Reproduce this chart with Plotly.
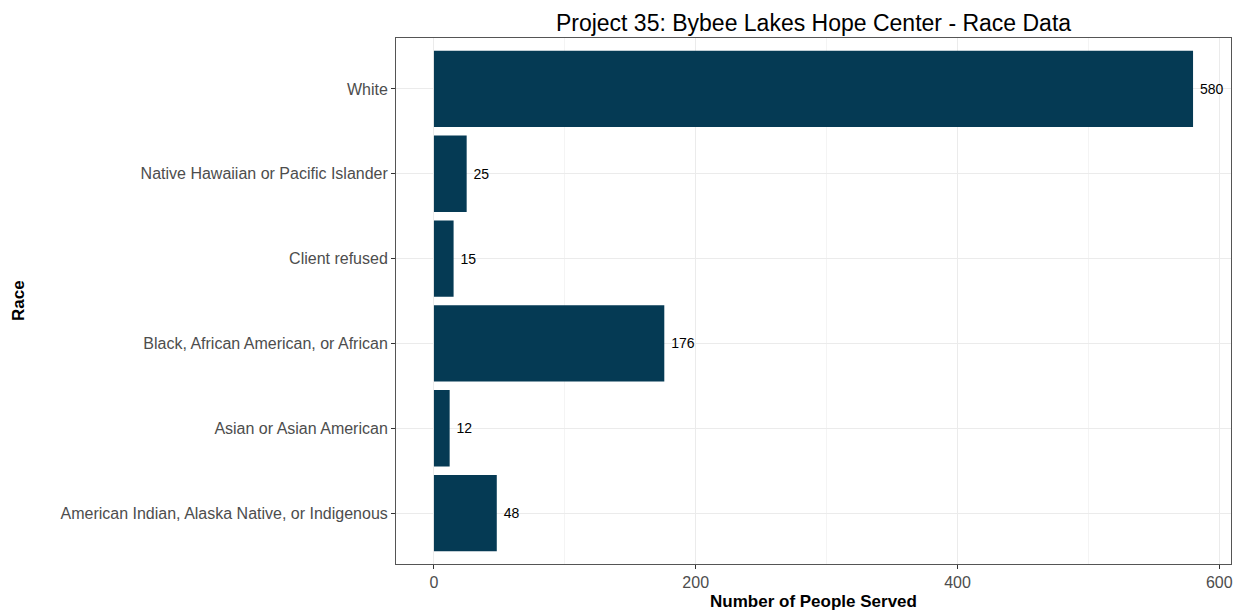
import plotly.graph_objects as go

categories = [
    "American Indian, Alaska Native, or Indigenous",
    "Asian or Asian American",
    "Black, African American, or African",
    "Client refused",
    "Native Hawaiian or Pacific Islander",
    "White",
]
values = [48, 12, 176, 15, 25, 580]
x_ticks = [0, 200, 400, 600]

FONT = "Liberation Sans, Arial, Helvetica, sans-serif"

# page body has an 8px default margin; positions below are in figure pixels
OFF = 8
W, H = 1242, 615
L, R, T, B = 396 - OFF, 11 + OFF, 38 - OFF, 51 + OFF

fig = go.Figure()
fig.add_trace(go.Bar(
    y=categories,
    x=values,
    orientation="h",
    width=0.9,
    marker=dict(color="#053A54", line=dict(width=0)),
    text=["\u00a0" + str(v) for v in values],
    textposition="outside",
    textfont=dict(family=FONT, size=14, color="#000000"),
    cliponaxis=False,
    hoverinfo="x+y",
))

fig.update_layout(
    width=W,
    height=H,
    margin=dict(l=L, r=R, t=T, b=B, autoexpand=False),
    paper_bgcolor="white",
    plot_bgcolor="white",
    showlegend=False,
    font=dict(family=FONT),
    title=dict(
        text="Project 35: Bybee Lakes Hope Center - Race Data",
        x=((396 + 1231) / 2 - OFF) / W,
        xanchor="center",
        y=1 - 15 / H,
        yanchor="middle",
        font=dict(size=23, color="#000000"),
    ),
    bargap=0.1,
)

fig.update_xaxes(
    range=[-29, 609],
    tickvals=x_ticks,
    ticktext=[str(t) for t in x_ticks],
    ticks="outside",
    ticklen=4,
    tickcolor="#333333",
    tickfont=dict(size=16, color="#4D4D4D"),
    showgrid=True,
    gridcolor="#EBEBEB",
    gridwidth=1.2,
    minor=dict(tickvals=[100, 300, 500], showgrid=True, gridcolor="#F4F4F4", gridwidth=0.8, ticks=""),
    zeroline=False,
    showline=True,
    linecolor="#555555",
    linewidth=1,
    mirror=True,
    automargin=False,
    title=dict(text="<b>Number of People Served</b>", font=dict(size=17, color="#000000"), standoff=4),
)

fig.update_yaxes(
    categoryorder="array",
    categoryarray=categories,
    range=[-0.6, 5.6],
    ticks="outside",
    ticklen=4,
    tickcolor="#333333",
    tickfont=dict(size=16, color="#4D4D4D"),
    showgrid=True,
    gridcolor="#EBEBEB",
    gridwidth=1.2,
    zeroline=False,
    showline=True,
    linecolor="#555555",
    linewidth=1,
    mirror=True,
    automargin=False,
)

fig.add_annotation(
    text="<b>Race</b>",
    xref="paper", yref="paper",
    x=0, y=0.5,
    xanchor="center",
    xshift=(18 - OFF) - L,
    showarrow=False,
    textangle=-90,
    font=dict(size=17, color="#000000"),
)

fig.write_html("out.html")
